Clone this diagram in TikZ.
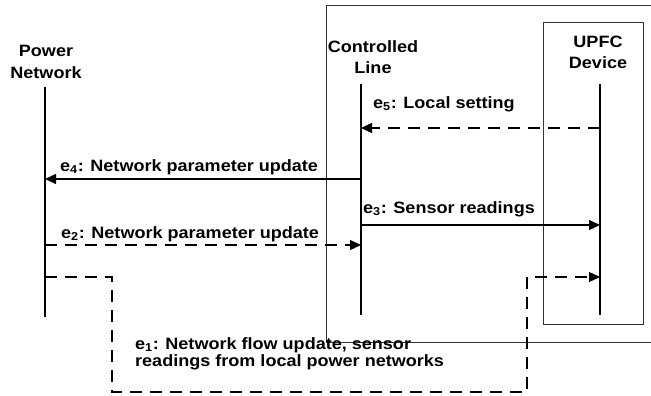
\documentclass[tikz,border=0pt]{standalone}
\usepackage{fontspec}
\setmainfont{Liberation Sans}[FakeStretch=1.1]
\usetikzlibrary{arrows.meta}
\tikzset{
  lbl/.style={font=\fontsize{16.4}{17}\selectfont\bfseries, inner sep=0pt, anchor=base west, align=left},
  hdr/.style={font=\fontsize{16.4}{21}\selectfont\bfseries, inner sep=0pt, align=center, anchor=base},
  life/.style={line width=1.3pt},
  frame/.style={line width=0.9pt, draw=black!80},
  msg/.style={line width=1.3pt, -{Triangle[length=11pt,width=10pt]}},
  dsh/.style={dash pattern=on 12pt off 8pt},
}
\begin{document}
\begin{tikzpicture}[x=1pt,y=-1pt]
\useasboundingbox (0,0) rectangle (651,396);
% boxes
\draw[frame] (652,5) -- (326,5) -- (326,342) -- (652,342);
\draw[frame] (543,22) rectangle (643,324);
% headers (base = baseline of the last line)
\node[hdr] (pn) at (46,78) {Power\\Network};
\node[hdr] (cl) at (373,74) {Controlled\\Line};
\node[hdr] (ud) at (598,69) {UPFC\\Device};
% lifelines
\coordinate (pnT) at (45,87);  \coordinate (pnB) at (45,317);
\coordinate (clT) at (361,84); \coordinate (clB) at (361,315);
\coordinate (udT) at (600,84); \coordinate (udB) at (600,315);
\draw[life] (pnT) -- (pnB);
\draw[life] (clT) -- (clB);
\draw[life] (udT) -- (udB);
% message points
\coordinate (u5) at (600,128); \coordinate (c5) at (361,128);
\coordinate (c4) at (361,179); \coordinate (p4) at (45,179);
\coordinate (c3) at (361,225); \coordinate (u3) at (600,225);
\coordinate (p2) at (45,245);  \coordinate (c2) at (361,245);
\coordinate (p1) at (45,277);  \coordinate (k1) at (112,277);
\coordinate (k2) at (112,392); \coordinate (k3) at (527,392);
\coordinate (k4) at (527,277); \coordinate (u1) at (600,277);
% messages
\draw[msg,dsh] (u5) -- (c5);
\draw[msg] (c4) -- (p4);
\draw[msg] (c3) -- (u3);
\draw[msg,dsh] (p2) -- (c2);
\draw[msg,dsh] (p1) -- (k1) -- (k2) -- (k3) -- (k4) -- (u1);
% labels
\node[lbl] (l5) at (373,108) {e\textsubscript{5}: Local setting};
\node[lbl] (l4) at (60,171) {e\textsubscript{4}: Network parameter update};
\node[lbl] (l3) at (363,213) {e\textsubscript{3}: Sensor readings};
\node[lbl] (l2) at (61,238) {e\textsubscript{2}: Network parameter update};
\node[lbl] (l1) at (135,366) {e\textsubscript{1}: Network flow update, sensor\\readings from local power networks};
\end{tikzpicture}
\end{document}
